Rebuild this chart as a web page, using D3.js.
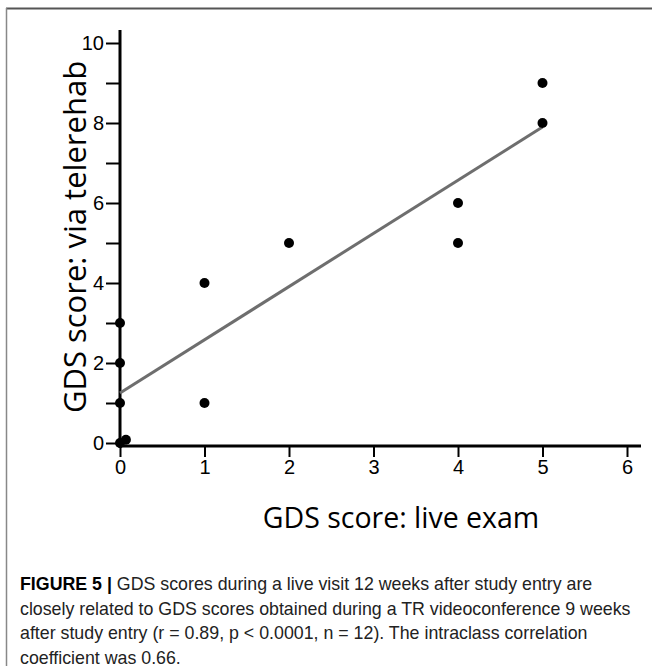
<!DOCTYPE html>
<html>
<head>
<meta charset="utf-8">
<script src="https://cdn.jsdelivr.net/npm/d3@7"></script>
<style>
  body { margin: 0; background: #fff; }
  svg { display: block; }
</style>
</head>
<body>
<svg id="chart" width="652" height="666"></svg>
<script>
// data
var liveExam   = [0, 0.07, 0, 0, 0, 1, 1, 2, 4, 4, 5, 5];
var telerehab  = [0, 0.08, 1, 2, 3, 1, 4, 5, 5, 6, 8, 9];
var fitX = [0, 5];
var fitY = [1.25, 7.9];
var xTicks = [0, 1, 2, 3, 4, 5, 6];
var yTicks = [0, 1, 2, 3, 4, 5, 6, 7, 8, 9, 10];
var captionLines = [
  ["FIGURE 5 | ", "GDS scores during a live visit 12 weeks after study entry are"],
  ["", "closely related to GDS scores obtained during a TR videoconference 9 weeks"],
  ["", "after study entry (r = 0.89, p < 0.0001, n = 12). The intraclass correlation"],
  ["", "coefficient was 0.66."]
];

var svg = d3.select('#chart');

// figure frame (top + left edge)
svg.append('line').attr('x1', 6).attr('x2', 652).attr('y1', 8.5).attr('y2', 8.5)
  .attr('stroke', '#555').attr('stroke-width', 2);
svg.append('line').attr('x1', 6.5).attr('x2', 6.5).attr('y1', 8).attr('y2', 666)
  .attr('stroke', '#888').attr('stroke-width', 1.5);

var x = d3.scaleLinear().domain([0, 6]).range([120, 627]);
var y = d3.scaleLinear().domain([0, 10]).range([443, 43]);

// y axis
var yAxis = svg.append('g').attr('transform', 'translate(120,0)')
  .call(d3.axisLeft(y).tickValues(yTicks)
    .tickSize(14).tickPadding(2)
    .tickFormat(function (d) { return d % 2 === 0 ? d : ''; }));
yAxis.attr('font-size', 20).attr('font-family', 'Arial, "Liberation Sans", sans-serif');
yAxis.select('.domain').remove();
yAxis.append('line').attr('x1', 0).attr('x2', 0).attr('y1', 30).attr('y2', 448)
  .attr('stroke', '#000').attr('stroke-width', 3);
yAxis.selectAll('.tick line').attr('stroke', '#000').attr('stroke-width', 2);
yAxis.selectAll('.tick text').attr('fill', '#000');

// x axis
var xAxis = svg.append('g').attr('transform', 'translate(0,446)')
  .call(d3.axisBottom(x).tickValues(xTicks).tickSize(11).tickPadding(3)
    .tickFormat(d3.format('d')));
xAxis.attr('font-size', 20).attr('font-family', 'Arial, "Liberation Sans", sans-serif');
xAxis.select('.domain').remove();
xAxis.append('line').attr('x1', 119).attr('x2', 641).attr('y1', 0).attr('y2', 0)
  .attr('stroke', '#000').attr('stroke-width', 3);
xAxis.selectAll('.tick line').attr('stroke', '#000').attr('stroke-width', 2);
xAxis.selectAll('.tick text').attr('fill', '#000');

// fit line
svg.append('line')
  .attr('x1', x(fitX[0])).attr('y1', y(fitY[0]))
  .attr('x2', x(fitX[1])).attr('y2', y(fitY[1]))
  .attr('stroke', '#6e6e6e').attr('stroke-width', 3);

// points
svg.selectAll('circle.pt')
  .data(liveExam.map(function (d, i) { return [d, telerehab[i]]; }))
  .enter().append('circle')
  .attr('class', 'pt')
  .attr('cx', function (d) { return x(d[0]); })
  .attr('cy', function (d) { return y(d[1]); })
  .attr('r', 5)
  .attr('fill', '#000');

// axis titles
svg.append('text')
  .attr('x', 401).attr('y', 528)
  .attr('text-anchor', 'middle')
  .style('font-family', '"Open Sans", "Noto Sans", sans-serif')
  .style('font-size', '28.5px')
  .text('GDS score: live exam');

svg.append('text')
  .attr('transform', 'translate(86,237) rotate(-90)')
  .attr('text-anchor', 'middle')
  .style('font-family', '"Open Sans", "Noto Sans", sans-serif')
  .style('font-size', '31px')
  .text('GDS score: via telerehab');

// caption
var cap = svg.append('g')
  .style('font-family', 'Arial, "Liberation Sans", sans-serif')
  .style('font-size', '17.8px')
  .attr('fill', '#222');
captionLines.forEach(function (l, i) {
  var t = cap.append('text').attr('x', 20).attr('y', 590 + i * 24.5);
  if (l[0]) t.append('tspan').style('font-weight', 'bold').attr('fill', '#000').text(l[0]);
  t.append('tspan').text(l[1]);
});
</script>
</body>
</html>
